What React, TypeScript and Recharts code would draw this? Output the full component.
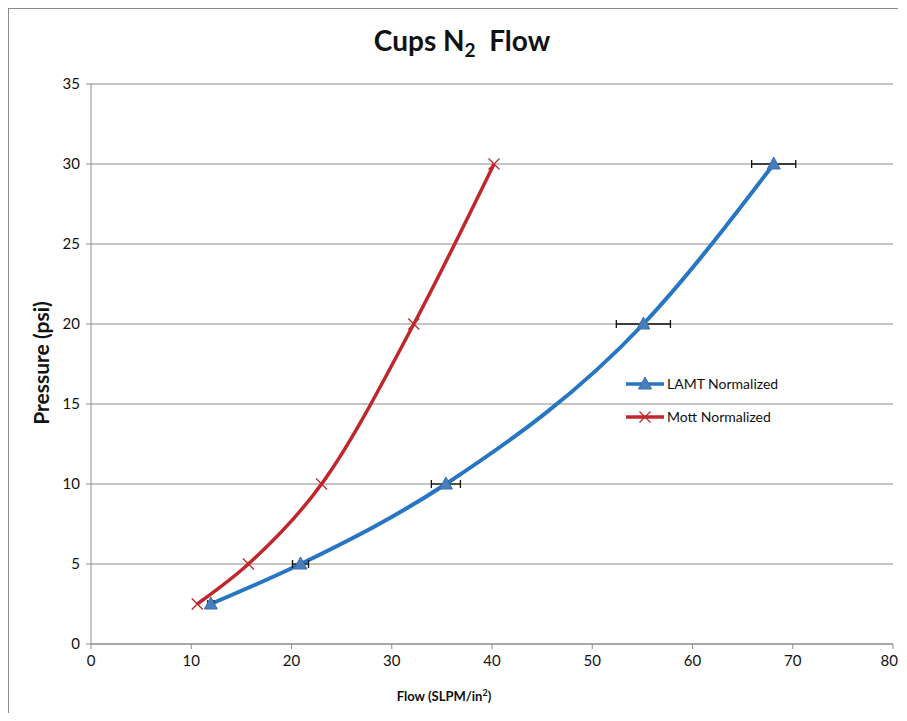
import React from 'react';
import {
  ComposedChart,
  Line,
  Scatter,
  ErrorBar,
  XAxis,
  YAxis,
  CartesianGrid,
} from 'recharts';

const pressure = [2.5, 5, 10, 20, 30];
const lamtFlow = [11.95, 20.9, 35.4, 55.1, 68.1];
const lamtErr = [0.3, 0.8, 1.45, 2.7, 2.2];
const mottFlow = [10.6, 15.7, 23.0, 32.2, 40.2];
const xTicks = [0, 10, 20, 30, 40, 50, 60, 70, 80];
const yTicks = [0, 5, 10, 15, 20, 25, 30, 35];

const BLUE = '#2676C4';
const TRI = '#4A7EBB';
const RED = '#C0272D';
const FONT = 'Lato, "Open Sans", sans-serif';

const lamtData = pressure.map((y, i) => ({ x: lamtFlow[i], y, err: lamtErr[i] }));
const mottData = pressure.map((y, i) => ({ x: mottFlow[i], y }));

function Triangle(props: any) {
  const { cx, cy } = props;
  if (cx == null || cy == null) return null;
  return (
    <path
      d={`M${cx},${cy - 7} L${cx + 6.5},${cy + 5} L${cx - 6.5},${cy + 5} Z`}
      fill={TRI}
      stroke="#3A6FAF"
      strokeWidth={1}
    />
  );
}

function Cross(props: any) {
  const { cx, cy } = props;
  if (cx == null || cy == null) return null;
  const s = 5.5;
  return (
    <g stroke={RED} strokeWidth={1.3}>
      <line x1={cx - s} y1={cy - s} x2={cx + s} y2={cy + s} />
      <line x1={cx - s} y1={cy + s} x2={cx + s} y2={cy - s} />
    </g>
  );
}

// last x label sits right at the page edge, so pull it in a little
function XTick(props: any) {
  const { x, y, payload } = props;
  const last = payload.value === xTicks[xTicks.length - 1];
  return (
    <text
      x={last ? x + 5 : x}
      y={y + 4}
      dy="0.71em"
      textAnchor={last ? 'end' : 'middle'}
      fill="#111"
      fontSize={15}
      fontFamily={FONT}
    >
      {payload.value}
    </text>
  );
}

function LegendBox() {
  const rows = [
    { name: 'LAMT Normalized', color: BLUE, kind: 'tri' },
    { name: 'Mott Normalized', color: RED, kind: 'x' },
  ];
  return (
    <div
      style={{
        position: 'absolute',
        left: 616,
        top: 358,
        fontFamily: FONT,
        fontSize: 14,
      }}
    >
      {rows.map(r => (
        <div key={r.name} style={{ display: 'flex', alignItems: 'center', height: 33 }}>
          <svg width={40} height={16}>
            <line x1={1} y1={8} x2={39} y2={8} stroke={r.color} strokeWidth={3.5} />
            {r.kind === 'tri' ? <Triangle cx={20} cy={8} /> : <Cross cx={20} cy={8} />}
          </svg>
          <span style={{ marginLeft: 2, color: '#111' }}>{r.name}</span>
        </div>
      ))}
    </div>
  );
}

export default function App() {
  return (
    <div
      style={{
        position: 'relative',
        width: 889,
        height: 704,
        borderLeft: '1px solid #8a8a8a',
        borderTop: '1px solid #8a8a8a',
        fontFamily: FONT,
        background: '#fff',
      }}
    >
      <style>{'html { overflow: hidden; } .recharts-surface { overflow: visible; }'}</style>
      <div
        style={{
          position: 'absolute',
          top: 14,
          left: 0,
          width: 906,
          textAlign: 'center',
          fontWeight: 700,
          fontSize: 28,
          color: '#111',
        }}
      >
        Cups N<sub style={{ fontSize: 19, verticalAlign: -6 }}>2</sub>&nbsp; Flow
      </div>
      <div
        style={{
          position: 'absolute',
          left: 31,
          top: 354,
          transform: 'translate(-50%, -50%) rotate(-90deg)',
          fontWeight: 700,
          fontSize: 21,
          whiteSpace: 'nowrap',
          color: '#111',
        }}
      >
        Pressure (psi)
      </div>
      <div
        style={{
          position: 'absolute',
          left: 0,
          width: 870,
          top: 678,
          textAlign: 'center',
          fontWeight: 700,
          fontSize: 13,
          color: '#111',
        }}
      >
        Flow (SLPM/in<sup style={{ fontSize: 9 }}>2</sup>)
      </div>
      <ComposedChart
        width={889}
        height={704}
        margin={{ top: 75, right: 5, bottom: 39, left: 42 }}
      >
        <CartesianGrid vertical={false} stroke="#8c8c8c" />
        <XAxis
          type="number"
          dataKey="x"
          domain={[0, 80]}
          ticks={xTicks}
          interval={0}
          height={30}
          stroke="#8c8c8c"
          tickSize={5}
          tick={<XTick />}
          allowDataOverflow
        />
        <YAxis
          type="number"
          dataKey="y"
          domain={[0, 35]}
          ticks={yTicks}
          interval={0}
          width={40}
          stroke="#8c8c8c"
          tickSize={5}
          tick={{ fill: '#111', fontSize: 15, fontFamily: FONT }}
          tickMargin={6}
        />
        <Line
          data={mottData}
          dataKey="y"
          type="monotone"
          stroke={RED}
          strokeWidth={3.5}
          dot={<Cross />}
          legendType="none"
          isAnimationActive={false}
        />
        <Line
          data={lamtData}
          dataKey="y"
          type="monotone"
          stroke={BLUE}
          strokeWidth={4}
          dot={false}
          legendType="none"
          isAnimationActive={false}
        />
        <Scatter
          data={lamtData}
          dataKey="y"
          shape={<Triangle />}
          legendType="none"
          isAnimationActive={false}
        >
          <ErrorBar dataKey="err" direction="x" width={4} stroke="#111" strokeWidth={1.3} />
        </Scatter>
      </ComposedChart>
      <LegendBox />
    </div>
  );
}
